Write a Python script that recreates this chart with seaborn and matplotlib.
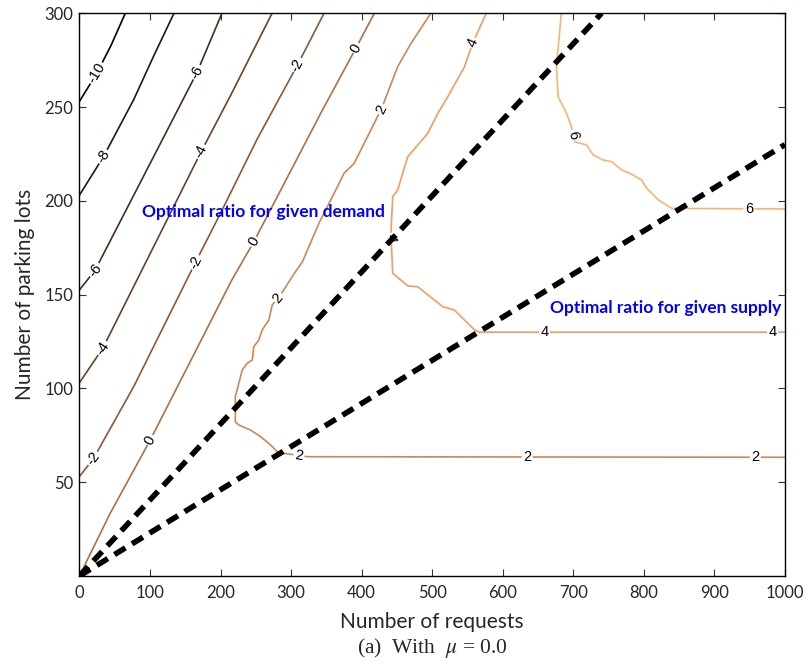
import numpy as np
import pandas as pd
import matplotlib
matplotlib.use("Agg")
import matplotlib.pyplot as plt
import seaborn as sns

# ---------------- data ----------------
levels = [-10, -8, -6, -4, -2, 0, 2, 4, 6, 8]

lvl_m10_x = [0, 24.6, 45, 65]
lvl_m10_y = [253, 268, 283, 300]
lvl_m8_x = [0, 34, 77, 105, 134]
lvl_m8_y = [203, 223.5, 254, 277, 300]
lvl_m6_x = [0, 22.2, 77, 166.7, 202]
lvl_m6_y = [152.5, 163, 203, 268.5, 300]
lvl_m4_x = [0, 33.1, 143, 172.5, 214, 273]
lvl_m4_y = [103, 121.4, 204, 226.2, 256, 300]
lvl_m2_x = [0, 19.8, 77, 164.5, 200, 252, 309, 346.7]
lvl_m2_y = [53, 62.5, 101, 167.2, 193.4, 233, 272.4, 300]
lvl_0_x = [0, 43.6, 100.4, 216, 247.2, 342, 391.7, 418]
lvl_0_y = [0, 33.4, 72.5, 157.8, 178.2, 246.7, 281.3, 300]
lvl_2_x = [498, 470, 451, 428, 389.4, 375, 365.8, 340, 316, 304, 285, 273.3, 268.5,
           259.1, 254.3, 247.2, 245, 237.8, 230.7, 225.9, 221, 221, 225.9, 242.5,
           256.7, 268.5, 280.4, 290, 323, 1000]
lvl_2_y = [300, 284, 271.5, 249, 220, 214.7, 207.6, 188.5, 167.5, 161, 149.8, 144.5, 136.5,
           131.2, 125.8, 122.3, 115.2, 113.4, 109.8, 102.7, 95.6, 82.3, 80.5, 77.8,
           74.3, 70.7, 66.3, 65.4, 63.6, 63.3]
lvl_4_x = [576.6, 557.6, 545.7, 522, 508, 493.7, 465.3, 451, 444, 441.5, 444, 465.3,
           479.5, 498.4, 515, 531.5, 545.7, 560, 567, 1000]
lvl_4_y = [300, 284.3, 271.5, 255.5, 246.7, 236, 223.5, 205.8, 202.2, 182.7, 161.4, 154.7,
           154.2, 148.5, 143.6, 141.8, 136.5, 131.2, 130, 130]
lvl_6_x = [683, 676, 678.5, 690, 697.4, 702, 718.7, 728.2, 742.4, 754.2, 768.4, 780.2,
           796.9, 804, 820.6, 839.5, 1000]
lvl_6_y = [300, 271.5, 255.5, 247, 239.5, 231.5, 229.8, 224.5, 221.8, 220.9, 216.5, 214.7,
           211.1, 206.7, 200.5, 196, 195.7]
lvl_8_x = [989, 1000]
lvl_8_y = [300, 299.4]

label_level = [-10, -8, -6, -6, -4, -4, -2, -2, -2, 0, 0, 0,
               2, 2, 2, 2, 2, 4, 4, 4, 4, 6, 6]
label_x = [24.6, 34, 22.2, 166.7, 33.1, 172.5, 19.8, 164.5, 309, 100.4, 247.2, 392.8,
           282.7, 425, 311.2, 634.8, 958, 439, 557.6, 659.4, 982.7, 699.8, 949]
label_y = [268, 223.5, 163, 268.5, 121.4, 226.2, 62.5, 167.2, 272.4, 72.5, 178.2, 281.3,
           148, 249.3, 64.5, 63.2, 63.2, 180, 284.3, 130, 130, 235, 195.7]

demand_x = [0, 740]
demand_y = [0, 300]
supply_x = [0, 1000]
supply_y = [0, 230]

x_ticks = [0, 100, 200, 300, 400, 500, 600, 700, 800, 900, 1000]
y_ticks = [50, 100, 150, 200, 250, 300]

# ---------------- build table ----------------
xs_all = [lvl_m10_x, lvl_m8_x, lvl_m6_x, lvl_m4_x, lvl_m2_x, lvl_0_x, lvl_2_x, lvl_4_x, lvl_6_x, lvl_8_x]
ys_all = [lvl_m10_y, lvl_m8_y, lvl_m6_y, lvl_m4_y, lvl_m2_y, lvl_0_y, lvl_2_y, lvl_4_y, lvl_6_y, lvl_8_y]
rows = []
for lv, xs, ys in zip(levels, xs_all, ys_all):
    for i, (x, y) in enumerate(zip(xs, ys)):
        rows.append((lv, i, x, y))
df = pd.DataFrame(rows, columns=["level", "order", "x", "y"])
paths = {lv: (np.array(xs, float), np.array(ys, float)) for lv, xs, ys in zip(levels, xs_all, ys_all)}

# ---------------- style ----------------
sns.set_style("ticks")
plt.rcParams["font.family"] = ["Lato", "DejaVu Sans"]
plt.rcParams["mathtext.fontset"] = "stix"

fig = plt.figure(figsize=(8.08, 6.69), dpi=100)
ax = fig.add_axes([79.4 / 808, 1 - 576 / 669, (785 - 79.4) / 808, (576 - 13.3) / 669])
ax.set_xlim(0, 1000)
ax.set_ylim(0, 300)

cmap = matplotlib.colormaps["copper"]
palette = {lv: cmap((lv + 10) / 18) for lv in levels}

sns.lineplot(data=df, x="x", y="y", hue="level", units="level", estimator=None,
             sort=False, palette=palette, legend=False, lw=1.2, ax=ax, zorder=2)

# contour labels, placed on their line and rotated along it
def snap(lv, px, py):
    xs, ys = paths[lv]
    P = ax.transData.transform(np.column_stack([xs, ys]))
    q = ax.transData.transform([px, py])
    best = None
    for i in range(len(P) - 1):
        a, b = P[i], P[i + 1]
        d = b - a
        t = np.clip(np.dot(q - a, d) / np.dot(d, d), 0, 1)
        proj = a + t * d
        dist = np.linalg.norm(q - proj)
        if best is None or dist < best[0]:
            best = (dist, proj, d)
    _, proj, d = best
    ang = np.degrees(np.arctan2(d[1], d[0]))
    if ang > 90:
        ang -= 180
    if ang <= -90:
        ang += 180
    x, y = ax.transData.inverted().transform(proj)
    return x, y, ang

for lv, lx, ly in zip(label_level, label_x, label_y):
    x, y, ang = snap(lv, lx, ly)
    ax.text(x, y, str(lv), rotation=ang, rotation_mode="anchor", ha="center", va="center",
            fontsize=10.5, family=["Liberation Sans", "DejaVu Sans"], color="black",
            bbox=dict(boxstyle="square,pad=0.1", fc="white", ec="none"), zorder=3)

# optimal ratio lines
sns.lineplot(x=demand_x, y=demand_y, color="black", lw=4, linestyle=(0, (2.3, 1.4)),
             ax=ax, zorder=4)
sns.lineplot(x=supply_x, y=supply_y, color="black", lw=4, linestyle=(0, (2.3, 1.4)),
             ax=ax, zorder=4)

ax.text(88.6, 194.2, "Optimal ratio for given demand", color="blue", fontweight="bold",
        fontsize=12.5, ha="left", va="center", family=["Lato", "DejaVu Sans"], zorder=5)
ax.text(666.5, 143.0, "Optimal ratio for given supply", color="blue", fontweight="bold",
        fontsize=12.5, ha="left", va="center", family=["Lato", "DejaVu Sans"], zorder=5)

ax.set_xticks(x_ticks)
ax.set_yticks(y_ticks)
ax.tick_params(direction="in", length=5, width=0.8, top=True, right=True,
               labelsize=12, color="#333333")
ax.tick_params(axis="x", pad=6.5)
ax.tick_params(axis="y", pad=4.5)
for s in ax.spines.values():
    s.set_linewidth(1.0)
    s.set_color("black")
ax.set_xlabel("Number of requests", fontsize=15, labelpad=8)
ax.set_ylabel("Number of parking lots", fontsize=15, labelpad=7)

fig.text((79.4 + 785) / 2 / 808, 1 - 648 / 669, r"(a)  With  $\mu$ = 0.0", ha="center",
         va="center", fontsize=15.5, family=["Liberation Serif", "DejaVu Serif"])

fig.savefig("out.png", dpi=100)
